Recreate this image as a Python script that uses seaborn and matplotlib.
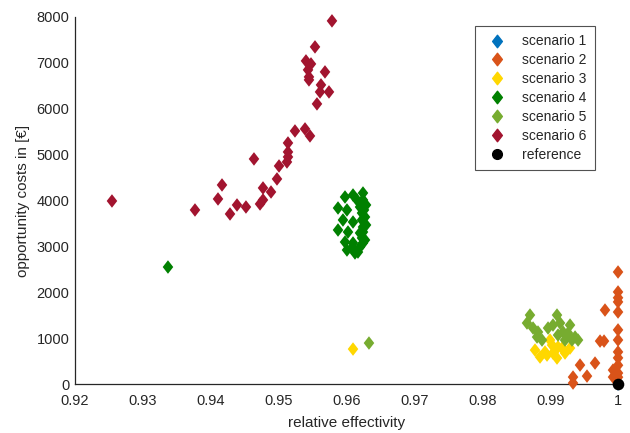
import numpy as np
import pandas as pd
import matplotlib
matplotlib.use("Agg")
import matplotlib.pyplot as plt
from matplotlib.path import Path
import seaborn as sns

# ---- data ----
s1_x = [1.0]
s1_y = [0]

s2_x = [1.0, 1.0, 1.0, 1.0, 1.0, 1.0, 1.0, 1.0, 1.0, 1.0, 1.0, 1.0, 1.0,
        0.99808, 0.99735, 0.99794, 0.99661, 0.99440, 0.99543, 0.99337, 0.99337, 0.99926, 0.99926]
s2_y = [2442, 2007, 1880, 1790, 1570, 1180, 960, 700, 570, 410, 240, 150, 30,
        1613, 937, 937, 458, 414, 174, 153, 22, 153, 305]

s3_x = [0.96096, 0.98777, 0.98851, 0.98924, 0.98998, 0.99042, 0.99101, 0.99175,
        0.99219, 0.99293, 0.99028, 0.99116, 0.98954]
s3_y = [763, 741, 589, 698, 959, 676, 567, 785, 676, 785, 850, 807, 632]

s4_x = [0.93370, 0.95978, 0.96096, 0.96243, 0.96155, 0.95875, 0.96007, 0.96199, 0.96228,
        0.95948, 0.96096, 0.96228, 0.96243, 0.95875, 0.96022, 0.96199, 0.96228, 0.95978,
        0.96096, 0.96199, 0.96007, 0.96125, 0.96081, 0.96243, 0.96169, 0.96243, 0.96273,
        0.96243, 0.96288, 0.96258, 0.96288, 0.96273]
s4_y = [2550, 4076, 4120, 4163, 4011, 3836, 3793, 3858, 3727,
        3575, 3531, 3575, 3422, 3357, 3313, 3292, 3183, 3095,
        3074, 2986, 2921, 2856, 2965, 3074, 2877, 4011, 3640,
        3313, 3902, 3793, 3466, 3139]

s5_x = [0.96331, 0.98703, 0.98659, 0.98748, 0.98821, 0.98880, 0.98807, 0.99101, 0.99042,
        0.99146, 0.99190, 0.99293, 0.99263, 0.99367, 0.99411, 0.98969, 0.99116, 0.99219, 0.99322]
s5_y = [894, 1504, 1330, 1221, 1134, 959, 1025, 1504, 1286,
        1330, 1134, 1286, 1112, 1025, 959, 1221, 1068, 959, 959]

s6_x = [0.92545, 0.93768, 0.94107, 0.94166, 0.94284, 0.94387, 0.94519, 0.94637, 0.94726,
        0.94770, 0.94770, 0.94888, 0.94976, 0.95006, 0.95123, 0.95138, 0.95138, 0.95138,
        0.95241, 0.95389, 0.95462, 0.95403, 0.95433, 0.95447, 0.95447, 0.95477, 0.95536,
        0.95565, 0.95610, 0.95624, 0.95683, 0.95742, 0.95786]
s6_y = [3989, 3793, 4033, 4338, 3706, 3902, 3858, 4905, 3924,
        4011, 4273, 4185, 4469, 4752, 4839, 4948, 5057, 5253,
        5515, 5559, 5406, 7041, 6845, 6692, 6627, 6975, 7346,
        6104, 6365, 6518, 6801, 6365, 7913]

ref_x = [1.0]
ref_y = [0]

names = ["scenario 1", "scenario 2", "scenario 3", "scenario 4", "scenario 5", "scenario 6"]
colors = ["#0072BD", "#D95319", "#FFD700", "#008000", "#77AC30", "#A2142F"]
xticks = [0.92, 0.93, 0.94, 0.95, 0.96, 0.97, 0.98, 0.99, 1.0]
xticklabels = ["0.92", "0.93", "0.94", "0.95", "0.96", "0.97", "0.98", "0.99", "1"]
yticks = [0, 1000, 2000, 3000, 4000, 5000, 6000, 7000, 8000]

# ---- build long-form table ----
xs = [s1_x, s2_x, s3_x, s4_x, s5_x, s6_x]
ys = [s1_y, s2_y, s3_y, s4_y, s5_y, s6_y]
frames = [pd.DataFrame({"x": x, "y": y, "scenario": n}) for x, y, n in zip(xs, ys, names)]
df = pd.concat(frames, ignore_index=True)
ref = pd.DataFrame({"x": ref_x, "y": ref_y, "scenario": "reference"})

sns.set_style("white")
plt.rcParams["font.family"] = ["Liberation Sans", "DejaVu Sans"]
text_col = "#262626"

diamond = Path([(0, 1), (0.78, 0), (0, -1), (-0.78, 0), (0, 1)],
               [Path.MOVETO, Path.LINETO, Path.LINETO, Path.LINETO, Path.CLOSEPOLY])

fig = plt.figure(figsize=(6.30, 4.33), dpi=100)
ax = fig.add_axes([0.119, 0.113, 0.862, 0.848])

sns.scatterplot(data=df, x="x", y="y", hue="scenario", hue_order=names,
                palette=dict(zip(names, colors)), marker=diamond, s=95,
                linewidth=0, ax=ax, legend=False, zorder=3, clip_on=False)
sns.scatterplot(data=ref, x="x", y="y", color="black", marker="o", s=70,
                linewidth=0, ax=ax, legend=False, zorder=4, clip_on=False)

ax.set_xlim(0.92, 1.0)
ax.set_ylim(0, 8000)
ax.set_xticks(xticks)
ax.set_xticklabels(xticklabels)
ax.set_yticks(yticks)
ax.tick_params(direction="in", length=4, width=0.8, color="#999999",
               labelsize=10.5, labelcolor=text_col)
ax.tick_params(axis="x", pad=7)
ax.tick_params(axis="y", pad=4)
for side in ["top", "right"]:
    ax.spines[side].set_visible(False)
for side in ["left", "bottom"]:
    ax.spines[side].set_color("#262626")
    ax.spines[side].set_linewidth(0.9)
ax.set_xlabel("relative effectivity", fontsize=11, color=text_col, labelpad=6)
ax.set_ylabel("opportunity costs in [€]", fontsize=11, color=text_col, labelpad=5)

handles = [plt.Line2D([], [], marker=diamond, linestyle="none", color=c, markersize=9)
           for c in colors]
handles.append(plt.Line2D([], [], marker="o", linestyle="none", color="black", markersize=7))
leg = ax.legend(handles, names + ["reference"], loc="upper right",
                bbox_to_anchor=(0.958, 0.975), frameon=True, fancybox=False,
                fontsize=10, handletextpad=0.8, borderpad=0.6, labelspacing=0.35,
                handlelength=2.0, borderaxespad=0)
leg.get_frame().set_edgecolor("#262626")
leg.get_frame().set_linewidth(0.8)
for t in leg.get_texts():
    t.set_color(text_col)

fig.savefig("out.png", dpi=100)
